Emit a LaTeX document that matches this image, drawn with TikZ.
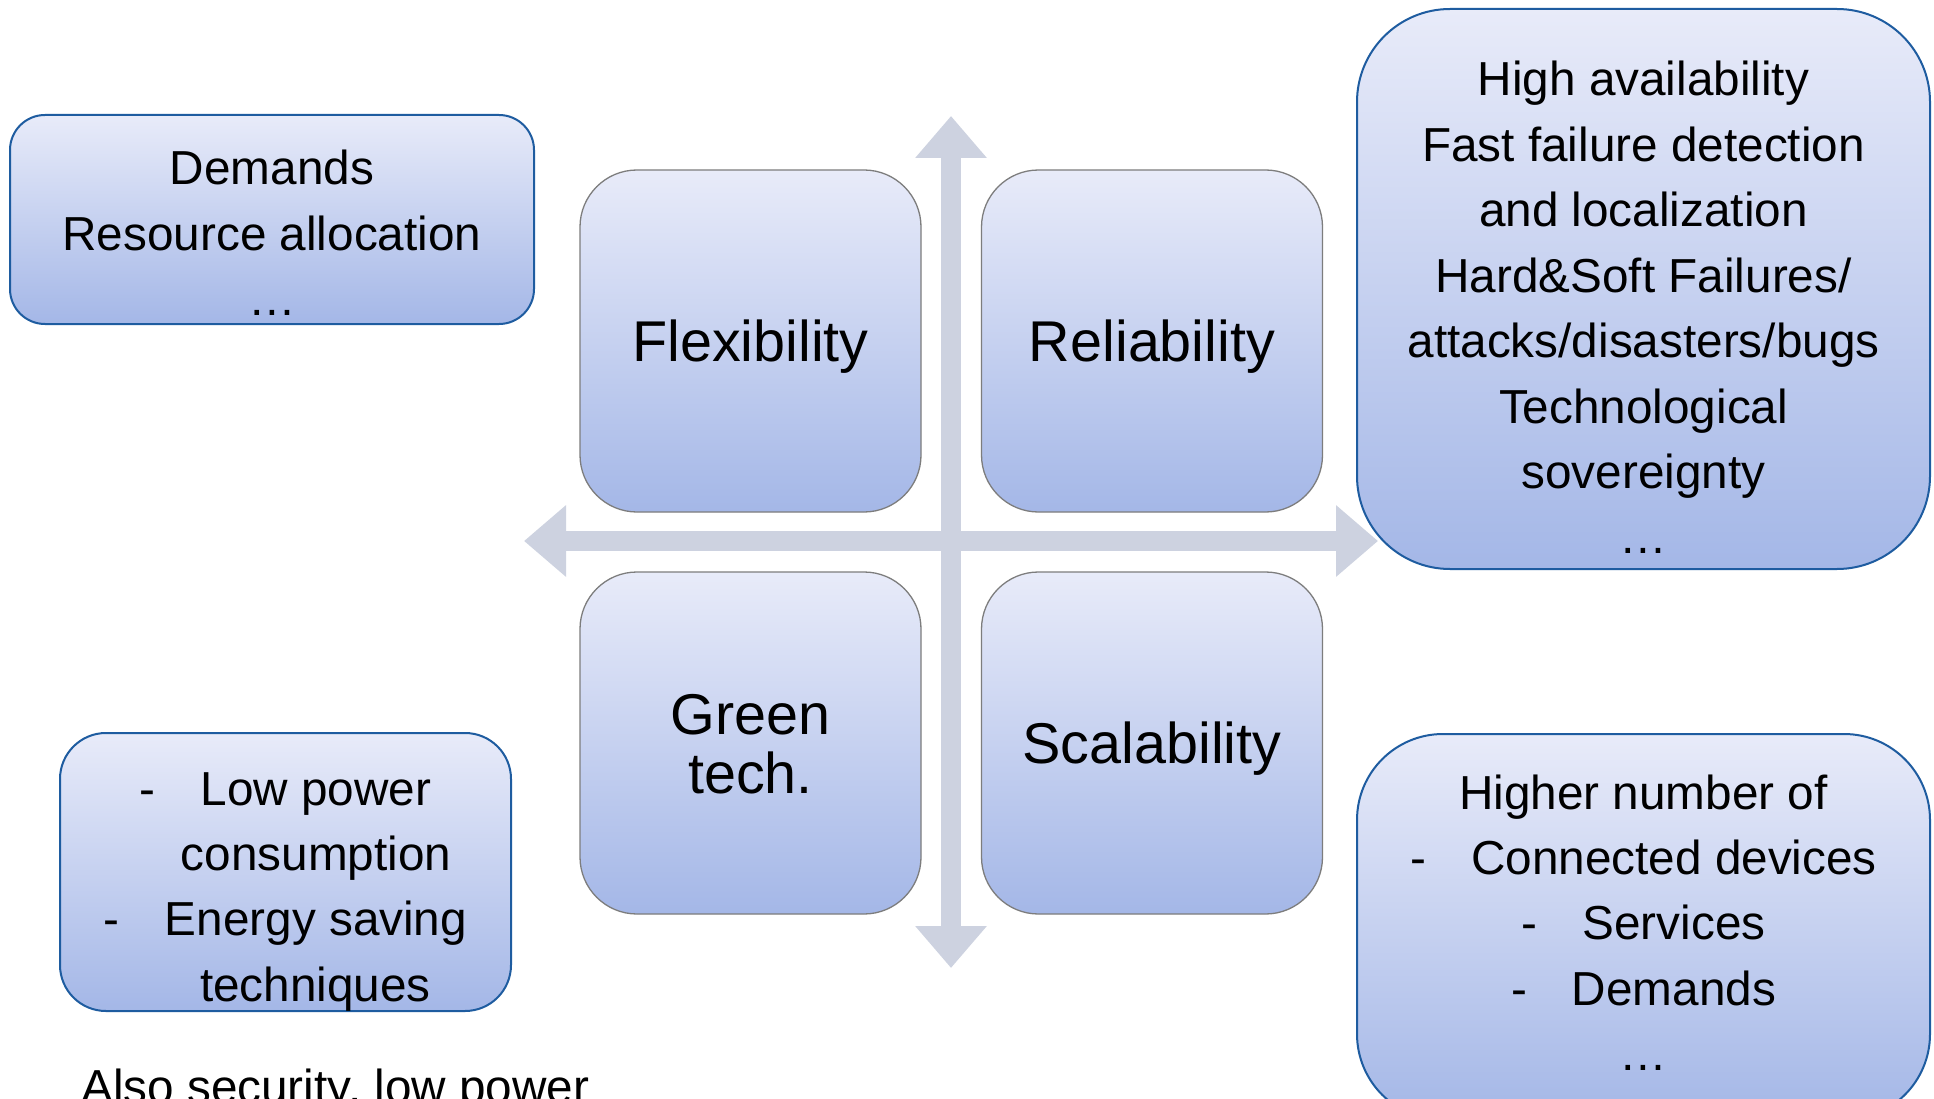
\documentclass[tikz,border=0pt]{standalone}
\usepackage{fontspec}
\setmainfont{Liberation Sans}
\usetikzlibrary{arrows.meta,positioning}
\definecolor{boxtop}{RGB}{232,235,249}
\definecolor{boxbottom}{RGB}{164,183,231}
\definecolor{edgeblue}{RGB}{30,92,160}
\definecolor{edgegray}{RGB}{125,125,125}
\definecolor{axisgray}{RGB}{205,210,224}
\tikzset{
  shadedbox/.style={top color=boxtop, bottom color=boxbottom, inner sep=0pt},
  sidebox/.style={shadedbox, draw=edgeblue, line width=2pt},
  quadbox/.style={shadedbox, draw=edgegray, line width=1.3pt, rounded corners=57pt,
    minimum width=341pt, minimum height=342pt},
  axis/.style={draw=axisgray, line width=20pt, >={Triangle[width=69pt,length=42pt]}, <->},
  sidetxt/.style={anchor=base, inner sep=0pt, font=\fontsize{47.7}{57}\selectfont},
  quadtxt/.style={anchor=base, inner sep=0pt, font=\fontsize{57.5}{69}\selectfont}
}
\begin{document}
\begin{tikzpicture}[x=1pt,y=-1pt]
  \fill[white] (0,0) rectangle (1934,1099);
  \useasboundingbox (0,0) rectangle (1934,1099);

  % axes
  \coordinate (ntip) at (951,116);
  \coordinate (stip) at (951,968);
  \coordinate (wtip) at (524,541);
  \coordinate (etip) at (1378,541);
  \draw[axis] (ntip) -- (stip);
  \draw[axis] (wtip) -- (etip);

  % four quadrants
  \node[quadbox] (flex) at (750.5,341) {};
  \node[quadbox] (reli) at (1152,341) {};
  \node[quadbox] (green) at (750.5,743) {};
  \node[quadbox] (scal) at (1152,743) {};
  \node[quadtxt] (flex-t) at (750.5,361) {Flexibility};
  \node[quadtxt] (reli-t) at (1152,361) {Reliability};
  \node[quadtxt] (green-a) at (750.5,734) {Green};
  \node[quadtxt] (green-b) at (750.5,793) {tech.};
  \node[quadtxt] (scal-t) at (1152,763) {Scalability};

  % side boxes
  \node[sidebox, rounded corners=35pt, minimum width=524pt, minimum height=209pt] (flexbox) at (272,219.5) {};
  \node[sidebox, rounded corners=93pt, minimum width=573pt, minimum height=560pt] (relibox) at (1643.5,289) {};
  \node[sidebox, rounded corners=46pt, minimum width=451pt, minimum height=278pt] (greenbox) at (285.5,872) {};
  \node[sidebox, rounded corners=86pt, minimum width=573pt, minimum height=386pt] (scalbox) at (1643.5,927) {};

  \foreach \t [count=\i] in {Demands, Resource allocation, …}
    \node[sidetxt] (flexbox-\i) at (272,{185+65.4*(\i-1)}) {\t};
  \foreach \t [count=\i] in {High availability, Fast failure detection, and localization,
      Hard\&Soft Failures/, attacks/disasters/bugs, Technological, sovereignty, …}
    \node[sidetxt] (relibox-\i) at (1643.5,{96+65.4*(\i-1)}) {\t};
  \foreach \t [count=\i] in {-\hspace{45pt}Low power, \hspace{61pt}consumption,
      -\hspace{45pt}Energy saving, \hspace{60pt}techniques}
    \node[sidetxt] (greenbox-\i) at (285.5,{805+65.4*(\i-1)}) {\t};
  \foreach \t [count=\i] in {Higher number of, -\hspace{45pt}Connected devices,
      -\hspace{45pt}Services, -\hspace{45pt}Demands, …}
    \node[sidetxt] (scalbox-\i) at (1643.5,{809+65.4*(\i-1)}) {\t};

  \node[sidetxt, anchor=base west] (also) at (81,1103) {Also security, low power};
\end{tikzpicture}
\end{document}
